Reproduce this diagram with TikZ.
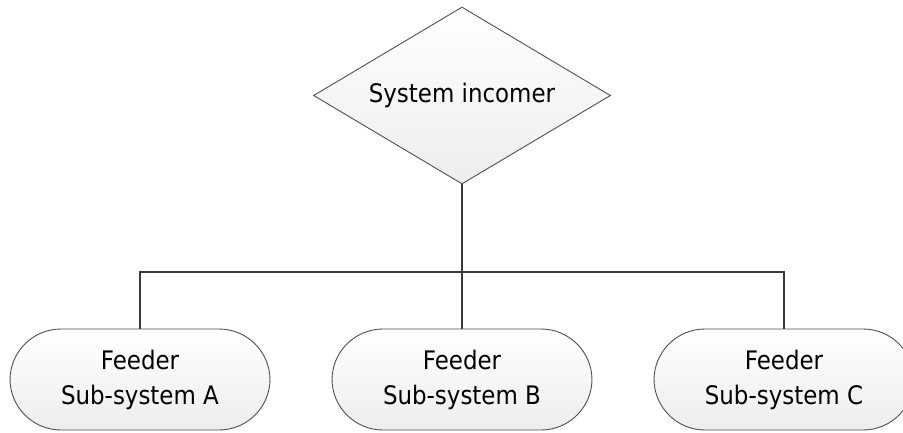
\documentclass[tikz,border=0pt]{standalone}
\usepackage{fontspec}
\setmainfont{DejaVu Sans Condensed}
\usetikzlibrary{shapes.geometric}
\definecolor{edgegray}{HTML}{505050}
\definecolor{linkgray}{HTML}{3A3A3A}
\tikzset{
  decision/.style={shape=diamond, aspect=1.68, draw=edgegray, line width=0.9pt,
    top color=white, bottom color=black!7, inner sep=0pt,
    minimum width=297pt, minimum height=177pt,
    font=\fontsize{25.5}{30}\selectfont},
  feeder/.style={shape=rectangle, rounded corners=51pt, draw=edgegray,
    line width=0.9pt, top color=white, bottom color=black!7,
    minimum width=260pt, minimum height=101pt, align=center,
    font=\fontsize{25.5}{35}\selectfont},
  link/.style={draw=linkgray, line width=2.3pt}
}
\begin{document}
\begin{tikzpicture}[x=1pt,y=-1pt]
  \useasboundingbox (0,0) rectangle (903,433);
  \clip (0,0) rectangle (903,433);
  % incomer feeding three sub-system feeders over a common bus
  \node[decision] (inc) at (462,95.5) {System incomer};
  \node[feeder] (fa) at (140,379.5) {Feeder\\Sub-system A};
  \node[feeder] (fb) at (462,379.5) {Feeder\\Sub-system B};
  \node[feeder] (fc) at (784,379.5) {Feeder\\Sub-system C};
  \coordinate (bus) at (462,272);
  \draw[link] (inc.south) -- (fb.north);
  \draw[link] (fa.north) -- (fa.north |- bus) -- (fc.north |- bus) -- (fc.north);
\end{tikzpicture}
\end{document}
